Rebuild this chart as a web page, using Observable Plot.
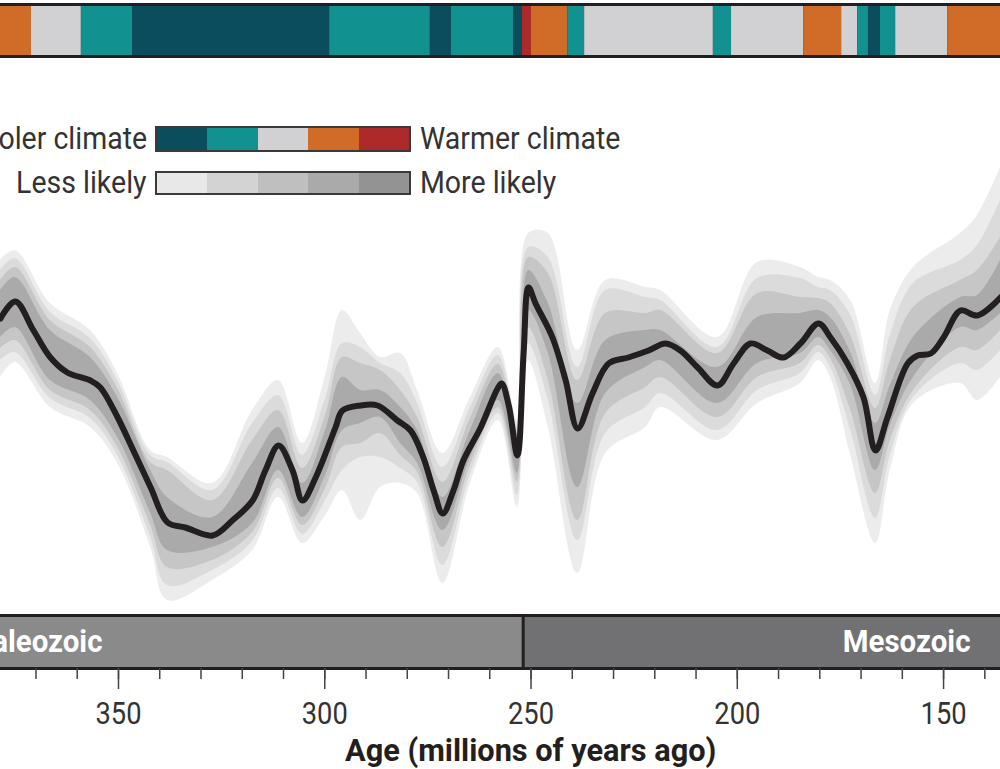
<!DOCTYPE html>
<html>
<head>
<meta charset="utf-8">
<script src="https://cdn.jsdelivr.net/npm/d3@7"></script>
<script src="https://cdn.jsdelivr.net/npm/@observablehq/plot@0.6"></script>
<style>
  body { margin: 0; background: #fff; }
  #wrap { position: relative; width: 1000px; height: 769px; overflow: hidden;
          font-family: Roboto, "Noto Sans", sans-serif; color: #333; }
  .txt { position: absolute; white-space: nowrap; font-size: 32px; line-height: 1; }
  .bar { position: absolute; display: flex; box-sizing: border-box; border: 2px solid #3a3a3a; }
  .bar div { flex: 1; }
</style>
</head>
<body>
<div id="wrap"></div>
<script>
// ---------- DATA ----------
// x domain (age, millions of years ago) visible in the crop
const ageDomain = [378.6, 136.2];

// Top climate-state bar: segment boundaries (Ma) and climate class
const stateStart = [378.6, 371.1, 359.0, 346.6, 298.8, 274.4, 269.3, 254.2, 252.1, 249.9, 241.1, 237.0, 205.8, 201.4, 183.9, 174.7, 170.8, 168.2, 165.3, 161.6, 149.0];
const stateEnd   = [371.1, 359.0, 346.6, 298.8, 274.4, 269.3, 254.2, 252.1, 249.9, 241.1, 237.0, 205.8, 201.4, 183.9, 174.7, 170.8, 168.2, 165.3, 161.6, 149.0, 136.2];
const stateClass = ["warm", "neutral", "cool", "coldest", "cool", "coldest", "cool", "coldest", "hottest", "warm", "cool", "neutral", "cool", "neutral", "warm", "neutral", "cool", "coldest", "cool", "neutral", "warm"];

const climateClasses = ["coldest", "cool", "neutral", "warm", "hottest"];
const climateColors  = ["#0b4d5c", "#11918f", "#d1d1d3", "#d16b28", "#ad2a2a"];
const likelihoodColors = ["#e8e8e8", "#d3d3d3", "#bfbfbf", "#aaaaaa", "#939393"];

// Median temperature curve (°C) vs age (Ma)
const medianAge = [378.6, 375.0, 370.6, 366.5, 362.4, 356.8, 354.4, 350.2, 346.4, 342.2, 338.1, 333.8, 327.2, 322.4, 317.5, 314.4, 311.2, 307.8, 305.4, 302.2, 297.4, 295.7, 291.3, 287.2, 282.4, 279.2, 276.1, 273.6, 271.4, 268.8, 266.4, 262.2, 258.1, 257.1, 255.4, 253.3, 251.8, 250.6, 248.9, 244.8, 241.6, 238.7, 235.1, 231.2, 226.4, 221.5, 217.4, 213.8, 209.6, 204.8, 200.9, 196.8, 192.7, 188.8, 184.7, 180.3, 177.4, 173.3, 169.4, 166.5, 163.6, 158.7, 156.3, 153.1, 150.0, 145.9, 141.8, 136.2];
const medianTemp = [31.36, 32.72, 30.4, 28.24, 27.04, 26.4, 25.84, 23.44, 20.8, 17.84, 15.04, 14.64, 14.0, 15.2, 16.8, 19.2, 21.2, 19.2, 16.8, 18.64, 22.64, 24.0, 24.4, 24.4, 23.2, 22.4, 20.24, 17.6, 15.76, 17.6, 20.0, 22.64, 25.76, 26.16, 24.4, 20.4, 28.56, 33.84, 32.56, 29.84, 26.4, 22.56, 25.36, 27.76, 28.24, 28.8, 29.36, 28.8, 27.44, 26.0, 27.76, 29.36, 28.8, 28.24, 29.36, 30.96, 29.84, 27.76, 25.04, 20.8, 23.44, 27.76, 28.4, 28.56, 29.84, 32.0, 31.6, 33.04];

// Uncertainty envelopes (°C), from least likely (outer) to most likely (inner)
const bandAge = [378.6, 375.0, 366.5, 356.8, 350.2, 342.2, 338.1, 327.2, 317.5, 311.2, 305.4, 299.8, 295.7, 291.3, 286.5, 281.6, 277.5, 271.4, 264.7, 257.9, 253.3, 250.6, 245.8, 238.7, 231.9, 222.2, 218.6, 204.8, 195.1, 184.7, 180.3, 177.4, 172.5, 166.5, 162.9, 157.3, 145.9, 141.8, 136.2];
const outerHigh = [36.0, 36.8, 32.56, 30.4, 26.96, 20.8, 20.24, 18.16, 24.0, 26.4, 21.36, 26.8, 32.0, 30.16, 28.24, 28.56, 25.6, 20.56, 25.04, 29.04, 23.2, 38.16, 38.16, 28.8, 34.4, 33.84, 33.6, 29.84, 35.84, 35.44, 34.64, 34.4, 32.8, 26.16, 32.0, 35.44, 38.16, 39.6, 43.44];
const band2High = [35.2, 36.16, 31.84, 29.76, 26.4, 20.4, 19.84, 17.6, 22.96, 25.2, 20.4, 24.96, 29.36, 29.04, 27.76, 26.96, 24.56, 19.44, 24.24, 28.4, 22.8, 37.04, 36.24, 27.44, 33.6, 33.04, 32.8, 29.04, 34.56, 34.56, 33.84, 33.6, 31.6, 25.2, 30.0, 34.16, 36.0, 37.2, 40.8];
const band3High = [34.4, 35.44, 31.2, 29.04, 25.76, 19.84, 19.2, 16.8, 21.6, 24.0, 19.36, 23.6, 28.24, 27.76, 27.2, 25.6, 23.44, 18.24, 23.36, 27.68, 22.48, 36.24, 34.96, 26.4, 31.76, 31.76, 32.0, 28.56, 33.36, 33.04, 32.96, 32.56, 30.0, 24.16, 28.0, 32.24, 34.4, 35.2, 37.84];
const innerHigh = [33.6, 34.64, 30.4, 28.24, 25.04, 19.2, 17.04, 15.44, 19.76, 22.64, 18.16, 22.4, 26.64, 25.6, 25.6, 24.24, 22.4, 17.04, 22.4, 26.96, 22.16, 35.2, 32.56, 24.56, 29.6, 30.4, 30.4, 27.44, 31.44, 31.76, 32.0, 31.44, 28.64, 22.96, 26.0, 29.84, 33.04, 33.2, 36.0];
const innerLow  = [29.84, 30.64, 26.4, 24.8, 21.84, 15.76, 12.8, 13.04, 14.96, 19.2, 15.44, 18.8, 22.4, 22.96, 23.44, 21.36, 19.76, 14.4, 20.24, 24.8, 18.96, 32.0, 28.56, 17.84, 25.36, 27.44, 28.0, 24.56, 27.76, 28.56, 29.84, 28.8, 26.0, 19.2, 22.8, 26.64, 30.64, 30.4, 31.76];
const band3Low  = [28.96, 29.6, 25.6, 24.0, 21.04, 14.8, 11.44, 12.0, 14.24, 18.56, 14.8, 17.76, 21.04, 21.36, 22.16, 20.4, 19.04, 13.04, 19.6, 24.24, 18.24, 30.64, 26.4, 15.2, 23.76, 25.84, 26.64, 23.44, 26.64, 27.76, 29.2, 28.16, 24.0, 17.36, 21.6, 25.6, 29.04, 28.8, 30.4];
const band2Low  = [28.0, 28.64, 24.96, 23.36, 20.4, 13.84, 10.0, 11.2, 13.52, 17.76, 14.08, 16.8, 19.2, 20.24, 20.24, 19.36, 18.24, 11.6, 18.88, 23.76, 17.2, 29.36, 24.8, 13.6, 22.16, 24.24, 25.36, 22.4, 25.6, 26.96, 28.64, 27.44, 22.4, 15.36, 20.4, 25.04, 27.76, 27.2, 28.8];
const outerLow  = [26.64, 27.84, 24.24, 22.64, 19.76, 13.04, 8.8, 10.4, 12.8, 17.04, 13.36, 15.6, 17.6, 15.2, 17.84, 18.16, 17.36, 10.16, 18.16, 23.2, 16.24, 28.0, 22.64, 10.96, 20.56, 22.64, 24.24, 21.6, 24.56, 26.16, 28.0, 26.64, 20.4, 13.36, 19.2, 24.56, 26.16, 24.8, 26.64];

// Eras
const eraName  = ["Paleozoic", "Mesozoic"];
const eraStart = [541.0, 251.9];
const eraEnd   = [251.9, 66.0];
const eraColor = ["#8a8a8b", "#717173"];

// Axis ticks
const minorTicks = d3.range(140, 380, 10);
const majorTicks = [350, 300, 250, 200, 150];

// ---------- BUILD ----------
const ink = "#231f20";
const wrap = document.getElementById("wrap");
const place = (el, top) => { el.style.position = "absolute"; el.style.left = "0px"; el.style.top = top + "px"; wrap.appendChild(el); };

// condense an SVG text horizontally around its anchor (reference uses a condensed face)
function condenseSvgText(el, s) {
  const bb = el.getBBox();
  const anchor = getComputedStyle(el).textAnchor;
  const ax = anchor === "middle" ? bb.x + bb.width / 2 : anchor === "end" ? bb.x + bb.width : bb.x;
  const t = el.getAttribute("transform") || "";
  el.setAttribute("transform", `${t} translate(${ax},0) scale(${s},1) translate(${-ax},0)`);
}

// 1. Climate-state strip
const states = stateStart.map((s, i) => ({start: s, end: stateEnd[i], cls: stateClass[i]}));
const strip = Plot.plot({
  width: 1000, height: 55, margin: 0,
  style: {background: ink},
  x: {domain: ageDomain, axis: null},
  color: {domain: climateClasses, range: climateColors},
  marks: [
    Plot.rect(states, {x1: "start", x2: "end", fill: "cls", insetTop: 3, insetBottom: 3})
  ]
});
place(strip, 3);

// 2. Main chart
const bands = bandAge.map((a, i) => ({age: a,
  oLo: outerLow[i], oHi: outerHigh[i], b2Lo: band2Low[i], b2Hi: band2High[i],
  b3Lo: band3Low[i], b3Hi: band3High[i], iLo: innerLow[i], iHi: innerHigh[i]}));
const median = medianAge.map((a, i) => ({age: a, temp: medianTemp[i]}));
const curve = "catmull-rom";
const main = Plot.plot({
  width: 1000, height: 552, margin: 0,
  x: {domain: ageDomain, axis: null},
  y: {domain: [7.84, 52.0], axis: null},
  marks: [
    Plot.areaY(bands, {x: "age", y1: "oLo", y2: "oHi", fill: "#ececec", curve}),
    Plot.areaY(bands, {x: "age", y1: "b2Lo", y2: "b2Hi", fill: "#dbdbdb", curve}),
    Plot.areaY(bands, {x: "age", y1: "b3Lo", y2: "b3Hi", fill: "#c6c6c6", curve}),
    Plot.areaY(bands, {x: "age", y1: "iLo", y2: "iHi", fill: "#aaaaaa", curve}),
    Plot.line(median, {x: "age", y: "temp", stroke: ink, strokeWidth: 6, curve, strokeLinejoin: "round"})
  ]
});
place(main, 60);

// 3. Eras + axis
const eras = eraName.map((n, i) => ({name: n, start: eraStart[i], end: eraEnd[i], color: eraColor[i]}));
const bottom = Plot.plot({
  width: 1000, height: 157, marginTop: 3, marginBottom: 101, marginLeft: 0, marginRight: 0,
  x: {domain: ageDomain, axis: null},
  style: {fontFamily: "Roboto, sans-serif"},
  marks: [
    Plot.rect(eras, {x1: "start", x2: "end", fill: "color", clip: true}),
    Plot.ruleX(eras.slice(1), {x: "start", stroke: ink, strokeWidth: 3}),
    Plot.frame({anchor: "top", stroke: ink, strokeWidth: 3}),
    Plot.frame({anchor: "bottom", stroke: ink, strokeWidth: 3}),
    Plot.text(eras.slice(0, 1), {text: "name", frameAnchor: "left", textAnchor: "end", dx: 102, fill: "white", fontWeight: "bold", fontSize: 31, className: "era-label"}),
    Plot.text(eras.slice(1), {text: "name", frameAnchor: "right", textAnchor: "end", dx: -30, fill: "white", fontWeight: "bold", fontSize: 31, className: "era-label"}),
    Plot.axisX(minorTicks, {anchor: "bottom", tickSize: 11, tickFormat: () => "", stroke: "#444", strokeWidth: 1.5}),
    Plot.axisX(majorTicks, {anchor: "bottom", tickSize: 21, tickPadding: 12, stroke: "#444", strokeWidth: 1.5, fontSize: 31, fill: "#333", label: null})
  ]
});
place(bottom, 612);
bottom.querySelectorAll("text").forEach(t => {
  if (!t.textContent) return;
  const isEra = t.closest(".era-label") !== null;
  condenseSvgText(t, isEra ? 0.95 : 0.88);
});

// Axis title (centred under the axis, condensed face)
const title = document.createElement("div");
title.className = "txt";
title.textContent = "Age (millions of years ago)";
title.style.cssText += "font-weight:bold;font-size:32px;top:734px;color:#231f20;transform-origin:0 0;";
wrap.appendChild(title);
const tScale = 0.96;
title.style.left = (531 - title.offsetWidth * tScale / 2) + "px";
title.style.transform = `scaleX(${tScale})`;

// 4. Legends
function legendRow(top, leftText, rightText, colors, h) {
  const l = document.createElement("div");
  l.className = "txt";
  l.textContent = leftText;
  l.style.right = (1000 - 147) + "px";
  l.style.top = (top + h / 2 - 17) + "px";
  l.style.transform = "scaleX(0.89)";
  l.style.transformOrigin = "100% 0";
  wrap.appendChild(l);
  const bar = document.createElement("div");
  bar.className = "bar";
  bar.style.left = "155px"; bar.style.top = top + "px";
  bar.style.width = "256px"; bar.style.height = h + "px";
  colors.forEach(c => { const d = document.createElement("div"); d.style.background = c; bar.appendChild(d); });
  wrap.appendChild(bar);
  const r = document.createElement("div");
  r.className = "txt";
  r.textContent = rightText;
  r.style.left = "420px";
  r.style.top = (top + h / 2 - 17) + "px";
  r.style.transform = "scaleX(0.89)";
  r.style.transformOrigin = "0 0";
  wrap.appendChild(r);
}
legendRow(126, "Cooler climate", "Warmer climate", climateColors, 26);
legendRow(171, "Less likely", "More likely", likelihoodColors, 24);
</script>
</body>
</html>
